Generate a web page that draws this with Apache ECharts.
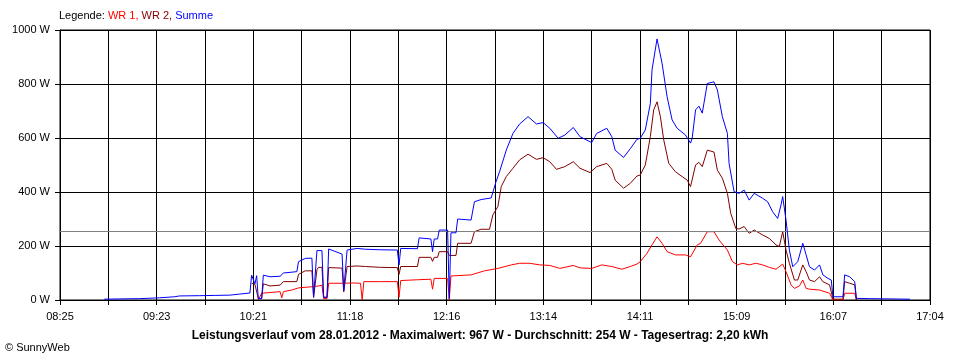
<!DOCTYPE html>
<html><head><meta charset="utf-8">
<script src="https://cdn.jsdelivr.net/npm/echarts@6/dist/echarts.min.js"></script>
<style>html,body{margin:0;padding:0;background:#fff}#c{width:960px;height:360px}</style>
</head><body><div id="c"></div>
<script>
// ---- data ----
const xTickLabels = ["08:25","09:23","10:21","11:18","12:16","13:14","14:11","15:09","16:07","17:04"];
const axisStart = "08:25:38";
const axisEnd = "17:04:56";
const averageValue = 254;

const summeTimes = ["8:52","9:01","9:13","9:25","9:34","9:37","9:49","9:58","10:07","10:08","10:13","10:14","10:19","10:20","10:22","10:23","10:24","10:26","10:27","10:31","10:37","10:39","10:47","10:48","10:52","10:56","10:57","10:59","11:02","11:03","11:05","11:06","11:14","11:15","11:17","11:23","11:28","11:37","11:47","11:48","11:49","11:59","12:00","12:07","12:08","12:09","12:11","12:12","12:17","12:18","12:19","12:22","12:23","12:31","12:33","12:37","12:43","12:46","12:48","12:52","12:56","13:00","13:05","13:10","13:14","13:18","13:23","13:27","13:32","13:36","13:43","13:46","13:52","13:55","13:57","14:02","14:06","14:10","14:12","14:15","14:18","14:19","14:22","14:25","14:28","14:31","14:34","14:39","14:40","14:42","14:43","14:45","14:47","14:49","14:52","14:56","14:58","15:01","15:04","15:05","15:08","15:11","15:14","15:17","15:20","15:25","15:28","15:31","15:34","15:36","15:37","15:39","15:41","15:43","15:46","15:49","15:51","15:53","15:56","15:59","16:01","16:04","16:06","16:07","16:13","16:14","16:17","16:20","16:21","16:29","16:41","16:53"];
const summeValues = [3,4,5,8,12,15,16,17,18,22,22,26,26,92,60,90,5,5,92,86,88,100,105,142,154,155,10,183,183,10,10,189,170,35,185,191,188,186,185,130,191,190,230,226,179,226,226,259,259,5,249,249,300,296,364,372,378,440,475,555,617,652,679,652,657,636,599,611,639,605,583,617,636,605,555,528,560,595,599,630,728,852,967,877,753,667,636,611,605,581,600,704,718,692,802,808,778,679,617,506,401,395,407,370,395,377,364,327,302,352,383,296,185,123,142,210,167,123,111,130,93,80,74,12,12,93,86,68,6,5,4,3];

const wr2Times = ["10:20","10:22","10:24","10:26","10:27","10:31","10:37","10:39","10:47","10:48","10:52","10:56","10:57","10:59","11:00","11:02","11:03","11:05","11:06","11:14","11:15","11:17","11:23","11:28","11:37","11:47","11:48","11:49","11:59","12:00","12:07","12:08","12:09","12:11","12:12","12:17","12:18","12:19","12:22","12:23","12:31","12:33","12:37","12:42","12:44","12:47","12:49","12:52","12:56","13:00","13:05","13:10","13:14","13:18","13:22","13:27","13:32","13:36","13:42","13:46","13:52","13:55","13:57","14:02","14:06","14:10","14:12","14:15","14:18","14:20","14:22","14:24","14:26","14:29","14:33","14:37","14:40","14:42","14:45","14:47","14:49","14:52","14:56","14:58","15:01","15:04","15:06","15:09","15:11","15:14","15:17","15:20","15:25","15:29","15:33","15:35","15:37","15:39","15:41","15:44","15:46","15:49","15:51","15:53","15:56","15:59","16:01","16:05","16:07","16:13","16:14","16:17","16:20","16:21"];
const wr2Values = [62,58,5,5,60,52,55,68,68,95,108,108,10,112,121,121,10,10,120,118,30,124,126,124,121,120,95,124,124,158,158,143,158,158,179,179,165,170,165,210,210,253,262,262,315,346,420,457,488,519,540,521,527,512,484,494,512,488,472,494,506,484,444,414,432,459,463,500,605,704,734,679,593,506,475,457,444,420,500,510,494,555,548,481,451,395,321,265,263,272,247,259,241,228,204,198,253,185,136,74,74,130,105,74,68,86,68,56,3,3,68,62,56,0];

const wr1Times = ["10:24","10:26","10:27","10:37","10:38","10:39","10:44","10:48","10:56","11:00","11:02","11:03","11:05","11:06","11:14","11:21","11:25","11:26","11:27","11:37","11:47","11:48","11:49","11:59","12:07","12:08","12:09","12:17","12:18","12:19","12:31","12:39","12:47","12:55","13:00","13:06","13:12","13:18","13:24","13:32","13:36","13:43","13:49","13:55","14:01","14:06","14:10","14:12","14:16","14:19","14:22","14:25","14:28","14:33","14:39","14:42","14:46","14:48","14:52","14:56","14:59","15:04","15:07","15:10","15:13","15:17","15:21","15:25","15:29","15:33","15:37","15:39","15:42","15:44","15:47","15:49","15:51","15:53","15:59","16:05","16:07","16:13","16:14","16:20","16:21"];
const wr1Values = [0,25,31,31,8,31,37,45,49,52,55,5,5,62,62,63,62,0,68,68,68,10,72,75,77,40,80,80,0,89,93,108,117,130,136,136,130,128,117,128,119,117,130,124,114,124,133,142,173,204,234,210,179,167,167,160,204,210,253,253,222,185,142,130,136,130,136,130,121,114,133,105,56,43,52,74,43,40,37,25,0,0,25,25,0];

// ---- chart ----
function toSec(s){const p=s.split(':').map(Number);return p[0]*3600+p[1]*60+(p[2]||0);}
const t0 = toSec(axisStart);
const span = toSec(axisEnd) - t0;
const step = span / 18;
function pairs(times, vals){return times.map((t,i)=>[toSec(t)-t0, vals[i]]);}

const FONT = '"Liberation Sans", Arial, sans-serif';
const chart = echarts.init(document.getElementById('c'), null, {renderer:'canvas'});
chart.setOption({
  animation:false,
  backgroundColor:'#fff',
  title:[
    {text:'{a|Legende: }{b|WR 1, }{c|WR 2, }{d|Summe}', left:59, top:10, padding:0,
     textStyle:{fontSize:11, fontFamily:FONT, fontWeight:'normal',
       rich:{a:{color:'#000',fontSize:11,fontFamily:FONT},b:{color:'#ff0000',fontSize:11,fontFamily:FONT},c:{color:'#800000',fontSize:11,fontFamily:FONT},d:{color:'#0000ff',fontSize:11,fontFamily:FONT}}}},
    {text:'Leistungsverlauf vom 28.01.2012 - Maximalwert: 967 W - Durchschnitt: 254 W - Tagesertrag: 2,20 kWh',
     left:'center', top:330, padding:0, textStyle:{fontSize:12, fontWeight:'bold', color:'#000', fontFamily:FONT}},
    {text:'© SunnyWeb', left:5, top:342, padding:0, textStyle:{fontSize:11, fontWeight:'normal', color:'#000', fontFamily:FONT}}
  ],
  grid:{left:60, right:30, top:30, bottom:60, show:true, borderColor:'#000', borderWidth:1, containLabel:false},
  xAxis:{type:'value', min:0, max:span, interval:step,
    axisLine:{show:true, lineStyle:{color:'#000', width:1}},
    axisTick:{show:true, length:5, lineStyle:{color:'#000'}},
    splitLine:{show:true, lineStyle:{color:'#000', width:1}},
    axisLabel:{margin:11, color:'#000', fontSize:11, fontFamily:FONT, showMinLabel:true, showMaxLabel:true,
      formatter:function(v){const i=Math.round(v/step);return i%2===0 ? (xTickLabels[i/2]||'') : '';}}},
  yAxis:{type:'value', min:0, max:1000, interval:200,
    axisLine:{show:true, lineStyle:{color:'#000', width:1}},
    axisTick:{show:true, length:5, lineStyle:{color:'#000'}},
    splitLine:{show:true, lineStyle:{color:'#000', width:1}},
    axisLabel:{margin:10, color:'#000', fontSize:11, fontFamily:FONT, formatter:function(v){return String(v)+' W';}}},
  series:[
    {name:'WR 1', type:'line', data:pairs(wr1Times, wr1Values), showSymbol:false, symbol:'none',
     lineStyle:{color:'#ff0000', width:1}, itemStyle:{color:'#ff0000'}, z:3},
    {name:'WR 2', type:'line', data:pairs(wr2Times, wr2Values), showSymbol:false, symbol:'none',
     lineStyle:{color:'#800000', width:1}, itemStyle:{color:'#800000'}, z:4},
    {name:'Summe', type:'line', data:pairs(summeTimes, summeValues), showSymbol:false, symbol:'none',
     lineStyle:{color:'#0000ff', width:1}, itemStyle:{color:'#0000ff'}, z:5,
     markLine:{silent:true, symbol:'none', label:{show:false}, lineStyle:{color:'#808080', type:'solid', width:1},
       data:[{yAxis:averageValue}]}}
  ]
});
</script></body></html>
